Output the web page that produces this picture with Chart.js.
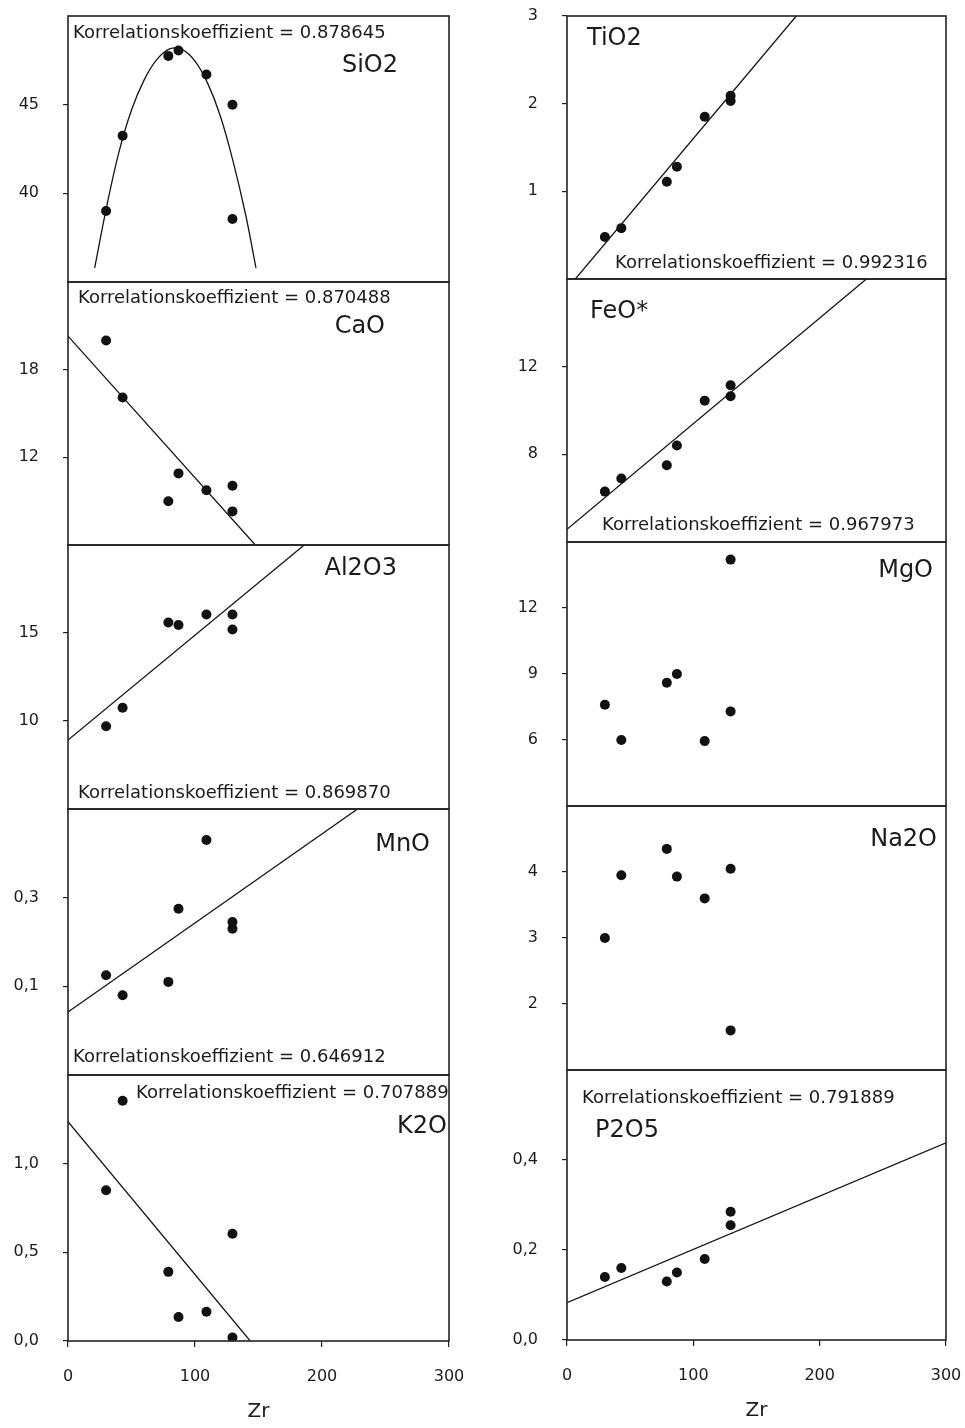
<!DOCTYPE html>
<html>
<head>
<meta charset="utf-8">
<script src="https://cdn.jsdelivr.net/npm/chart.js@4.4.0/dist/chart.umd.min.js"></script>
<style>
  body { margin: 0; background: #fff; }
  #page { position: relative; width: 965px; height: 1428px; overflow: hidden; }
  .panel { position: absolute; }
</style>
</head>
<body>
<div id="page"></div>
<script>
// Zr of the seven samples (x axis, same for every panel)
const zr = [30, 43, 79, 87, 109, 129.5, 129.5];

// oxide values per sample
const sio2 = [39.0, 43.25, 47.75, 48.05, 46.7, 45.0, 38.55];
const cao = [20.0, 16.1, 9.0, 10.9, 9.75, 10.05, 8.3];
const al2o3 = [9.7, 10.75, 15.6, 15.45, 16.05, 16.05, 15.2];
const mno = [0.125, 0.08, 0.11, 0.275, 0.43, 0.245, 0.23];
const k2o = [0.85, 1.355, 0.39, 0.135, 0.165, 0.605, 0.02];
const tio2 = [0.48, 0.58, 1.11, 1.28, 1.85, 2.09, 2.03];
const feo = [6.3, 6.9, 7.5, 8.4, 10.45, 11.15, 10.65];
const mgo = [7.6, 6.0, 8.6, 9.0, 5.95, 14.2, 7.3];
const na2o = [3.0, 3.95, 4.35, 3.93, 3.6, 4.05, 1.6];
const p2o5 = [0.14, 0.16, 0.13, 0.15, 0.18, 0.285, 0.255];

// regression curves [Zr, value]
const sio2Fit = [[21, 35.8], [30, 39.1], [40, 42.3], [50, 44.7], [60, 46.4], [70, 47.55], [80, 48.15],
  [90, 48.1], [100, 47.45], [110, 46.2], [120, 44.35], [130, 41.8], [140, 38.75], [148, 35.8]];
const caoFit = [[0, 20.3], [147.5, 6]];
const al2o3Fit = [[0, 8.92], [186, 20]];
const mnoFit = [[0, 0.042], [228, 0.5]];
const k2oFit = [[0, 1.237], [143.5, 0]];
const tio2Fit = [[6.6, 0], [181.5, 3]];
const feoFit = [[0, 4.58], [237, 16]];
const p2o5Fit = [[0, 0.083], [300, 0.438]];

// y ticks and their printed labels
const sio2Ticks = [40, 45];
const caoTicks = [12, 18];
const al2o3Ticks = [10, 15];
const mnoTicks = [0.1, 0.3];
const mnoLabels = ['0,1', '0,3'];
const k2oTicks = [0, 0.5, 1.0];
const k2oLabels = ['0,0', '0,5', '1,0'];
const tio2Ticks = [1, 2, 3];
const feoTicks = [8, 12];
const mgoTicks = [6, 9, 12];
const na2oTicks = [2, 3, 4];
const p2o5Ticks = [0, 0.2, 0.4];
const p2o5Labels = ['0,0', '0,2', '0,4'];
const zrTicks = [0, 100, 200, 300];

const FONT = 'DejaVu Sans';
const INK = '#1b1b1b';

const panels = [
  { col: 0, row: 0, name: 'SiO2', values: sio2, fit: sio2Fit, curve: true, min: 35, max: 50, ticks: sio2Ticks, coef: '0.878645' },
  { col: 0, row: 1, name: 'CaO', values: cao, fit: caoFit, min: 6, max: 24, ticks: caoTicks, coef: '0.870488' },
  { col: 0, row: 2, name: 'Al2O3', values: al2o3, fit: al2o3Fit, min: 5, max: 20, ticks: al2o3Ticks, coef: '0.869870' },
  { col: 0, row: 3, name: 'MnO', values: mno, fit: mnoFit, min: -0.1, max: 0.5, ticks: mnoTicks, labels: mnoLabels, coef: '0.646912' },
  { col: 0, row: 4, name: 'K2O', values: k2o, fit: k2oFit, min: 0, max: 1.5, ticks: k2oTicks, labels: k2oLabels, coef: '0.707889' },
  { col: 1, row: 0, name: 'TiO2', values: tio2, fit: tio2Fit, min: 0, max: 3, ticks: tio2Ticks, coef: '0.992316' },
  { col: 1, row: 1, name: 'FeO*', values: feo, fit: feoFit, min: 4, max: 16, ticks: feoTicks, coef: '0.967973' },
  { col: 1, row: 2, name: 'MgO', values: mgo, fit: null, min: 3, max: 15, ticks: mgoTicks },
  { col: 1, row: 3, name: 'Na2O', values: na2o, fit: null, min: 1, max: 5, ticks: na2oTicks },
  { col: 1, row: 4, name: 'P2O5', values: p2o5, fit: p2o5Fit, min: 0, max: 0.6, ticks: p2o5Ticks, labels: p2o5Labels, coef: '0.791889' }
];

// page geometry of the two columns (box left = left + axisW, box right = left + width - padRight)
const columns = [
  { left: 0, width: 487, axisW: 68, padRight: 38, tops: [16, 282, 545, 809, 1075], bottom: 1341 },
  { left: 500, width: 484, axisW: 67, padRight: 38, tops: [16, 279, 542, 806, 1070], bottom: 1340 }
];
const PAD = 36;      // room above/below each box (larger than the y scale's own label padding)
const X_AXIS_H = 83; // height of the Zr axis under the last row

// where the texts sit inside each box: [edge, offset, vertical edge, offset, align]
const textPlace = {
  'SiO2':  { coef: ['l', 5, 't', 17, 'left'], name: ['r', 51, 't', 50, 'right'] },
  'CaO':   { coef: ['l', 10, 't', 16, 'left'], name: ['r', 64, 't', 45, 'right'] },
  'Al2O3': { coef: ['l', 10, 'b', 16, 'left'], name: ['r', 52, 't', 24, 'right'] },
  'MnO':   { coef: ['l', 5, 'b', 18, 'left'], name: ['r', 19, 't', 36, 'right'] },
  'K2O':   { coef: ['l', 68, 't', 18, 'left'], name: ['r', 2, 't', 52, 'right'] },
  'TiO2':  { coef: ['l', 48, 'b', 16, 'left'], name: ['l', 20, 't', 23, 'left'] },
  'FeO*':  { coef: ['l', 35, 'b', 17, 'left'], name: ['l', 23, 't', 33, 'left'] },
  'MgO':   { name: ['r', 13, 't', 29, 'right'] },
  'Na2O':  { name: ['r', 9, 't', 34, 'right'] },
  'P2O5':  { coef: ['l', 15, 't', 28, 'left'], name: ['l', 28, 't', 61, 'left'] }
};

const boxPlugin = {
  id: 'box',
  afterDatasetsDraw(chart, args, opts) {
    const { ctx, chartArea: a } = chart;
    ctx.save();
    ctx.strokeStyle = '#222';
    ctx.lineWidth = 1.6;
    ctx.strokeRect(a.left, a.top, a.right - a.left, a.bottom - a.top);
    ctx.fillStyle = INK;
    ctx.textBaseline = 'middle';
    opts.texts.forEach(t => {
      const [hx, dx, vy, dy, align] = t.place;
      ctx.font = t.font;
      ctx.textAlign = align;
      const x = hx === 'r' ? a.right - dx : a.left + dx;
      const y = vy === 'b' ? a.bottom - dy : a.top + dy;
      ctx.fillText(t.text, x, y);
    });
    ctx.restore();
  }
};

const page = document.getElementById('page');

panels.forEach(p => {
  const col = columns[p.col];
  const top = col.tops[p.row];
  const last = p.row === 4;
  const boxBottom = last ? col.bottom : col.tops[p.row + 1];
  const div = document.createElement('div');
  div.className = 'panel';
  div.style.left = col.left + 'px';
  div.style.top = (top - PAD) + 'px';
  div.style.width = col.width + 'px';
  div.style.height = (boxBottom - top + PAD + (last ? X_AXIS_H : PAD)) + 'px';
  const canvas = document.createElement('canvas');
  div.appendChild(canvas);
  page.appendChild(div);

  const texts = [];
  const place = textPlace[p.name];
  if (p.coef) texts.push({ text: 'Korrelationskoeffizient = ' + p.coef, place: place.coef, font: '18px "' + FONT + '"' });
  texts.push({ text: p.name, place: place.name, font: '24px "' + FONT + '"' });

  const datasets = [{
    data: zr.map((x, i) => ({ x, y: p.values[i] })),
    pointRadius: 5,
    pointBackgroundColor: '#111',
    pointBorderWidth: 0
  }];
  if (p.fit) {
    datasets.push({
      data: p.fit.map(([x, y]) => ({ x, y })),
      showLine: true,
      pointRadius: 0,
      borderColor: '#151515',
      borderWidth: 1.3,
      tension: p.curve ? 0.4 : 0
    });
  }

  new Chart(canvas, {
    type: 'scatter',
    data: { datasets },
    options: {
      responsive: true,
      maintainAspectRatio: false,
      animation: false,
      layout: { autoPadding: false, padding: { left: 0, right: col.padRight, top: PAD, bottom: last ? 0 : PAD } },
      plugins: {
        legend: { display: false },
        tooltip: { enabled: false },
        box: { texts }
      },
      scales: {
        x: {
          type: 'linear',
          min: 0,
          max: 300,
          display: last,
          afterBuildTicks: s => { s.ticks = zrTicks.map(v => ({ value: v })); },
          afterFit: s => { if (last) s.height = X_AXIS_H; },
          ticks: { color: INK, padding: 20, font: { family: FONT, size: 16 } },
          grid: { drawOnChartArea: false, tickLength: 6, color: '#222', lineWidth: 1.2 },
          border: { display: false },
          title: { display: true, text: 'Zr', color: INK, padding: 0, font: { family: FONT, size: 20 } }
        },
        y: {
          min: p.min,
          max: p.max,
          afterBuildTicks: s => { s.ticks = p.ticks.map(v => ({ value: v })); },
          afterFit: s => { s.width = col.axisW; },
          ticks: {
            color: INK,
            padding: 24,
            font: { family: FONT, size: 16 },
            callback: (v, i) => p.labels ? p.labels[i] : String(v)
          },
          grid: { drawOnChartArea: false, tickLength: 5, color: '#222', lineWidth: 1.2 },
          border: { display: false }
        }
      }
    },
    plugins: [boxPlugin]
  });
});
</script>
</body>
</html>
